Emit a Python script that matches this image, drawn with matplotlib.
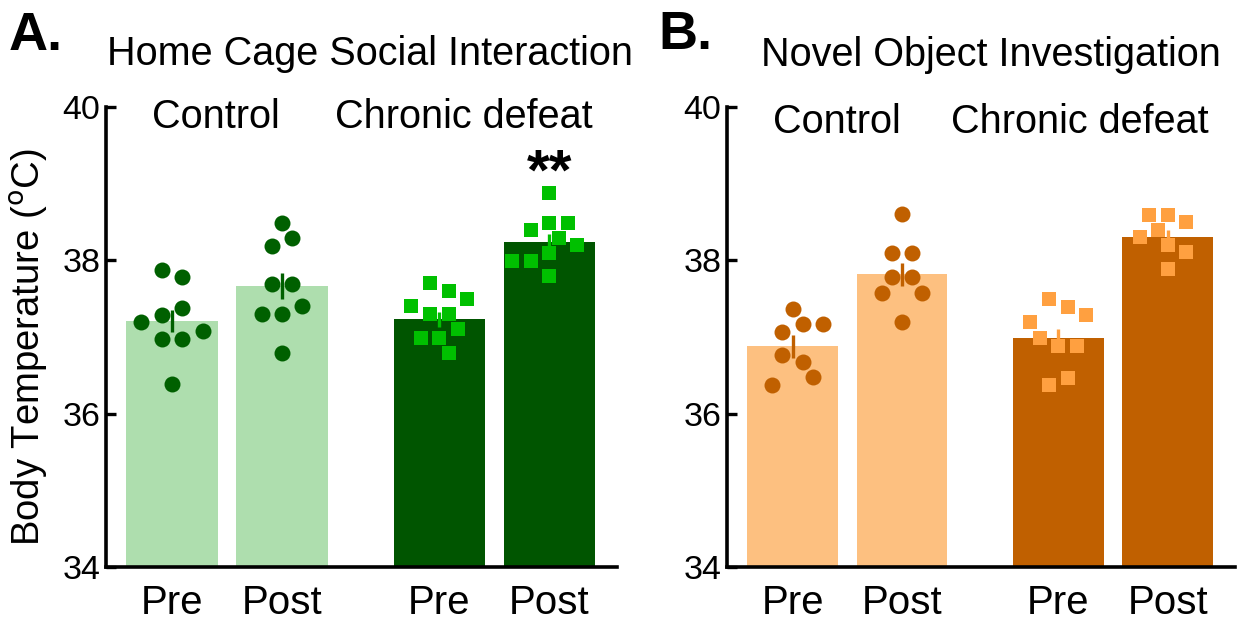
import numpy as np
import matplotlib
matplotlib.use("Agg")
import matplotlib.pyplot as plt

plt.rcParams['font.family'] = ['Liberation Sans', 'DejaVu Sans']

# ---- data ----
groups = ['Pre', 'Post', 'Pre', 'Post']

# A. Home cage social interaction
a_ctrl_pre = [37.87, 37.78, 37.38, 37.29, 37.19, 37.08, 36.98, 36.98, 36.39]
a_ctrl_post = [38.49, 38.29, 38.19, 37.69, 37.69, 37.40, 37.30, 37.30, 36.79]
a_cd_pre = [37.70, 37.60, 37.50, 37.40, 37.30, 37.30, 37.10, 36.99, 36.99, 36.79]
a_cd_post = [38.88, 38.49, 38.49, 38.40, 38.29, 38.20, 38.09, 37.99, 37.99, 37.80]
a_means = [37.21, 37.66, 37.23, 38.24]
a_sem = [0.14, 0.17, 0.10, 0.10]

# B. Novel object investigation
b_ctrl_pre = [37.37, 37.17, 37.17, 37.07, 36.77, 36.67, 36.48, 36.38]
b_ctrl_post = [38.60, 38.09, 38.09, 37.78, 37.78, 37.58, 37.58, 37.19]
b_cd_pre = [37.50, 37.39, 37.29, 37.20, 36.99, 36.88, 36.88, 36.47, 36.38]
b_cd_post = [38.59, 38.59, 38.50, 38.40, 38.30, 38.20, 38.11, 37.89]
b_means = [36.88, 37.82, 36.99, 38.30]
b_sem = [0.15, 0.15, 0.12, 0.09]

positions = [0, 1, 2.43, 3.43]
BAR_W = 0.83

fig = plt.figure(figsize=(12.43, 6.27), dpi=100)
axA = fig.add_axes([0.0853, 0.0957, 0.4111, 0.7337])
axB = fig.add_axes([0.5849, 0.0957, 0.4087, 0.7337])


def swarm_offsets(ax, x0, vals, size_px):
    """Prism-like scatter: points of similar value sit in a centred row,
    rows are widened/shifted when they bump into points already placed."""
    trans = ax.transData
    px_per_unit = trans.transform((x0 + 1, 0))[0] - trans.transform((x0, 0))[0]
    ys = np.array([trans.transform((x0, v))[1] for v in vals])
    order = list(np.argsort(vals, kind='stable')[::-1])
    step = size_px * 1.28
    mind = size_px * 1.1

    rows = []
    for i in order:
        if rows and ys[rows[-1][0]] - ys[i] <= 9.5:
            rows[-1].append(i)
        else:
            rows.append([i])

    placed = []
    offs = np.zeros(len(vals))

    def clear(cands, idx):
        return all(np.hypot(dx - px, ys[j] - py) >= mind
                   for dx, j in zip(cands, idx) for px, py in placed)

    for r, row in enumerate(rows):
        if r % 2 == 1:
            row = row[::-1]
        n = len(row)
        base = [(k - (n - 1) / 2) * step for k in range(n)]
        trials = []
        for k in range(8):
            for si, shift in enumerate((0.0, 0.5 * step, -0.5 * step, step, -step)):
                cand = [b + np.sign(b) * k * 0.5 * step + shift for b in base]
                trials.append((max(abs(c) for c in cand), si > 0, len(trials), cand))
        trials.sort()
        chosen = trials[-1][3]
        for _, _, _, cand in trials:
            if clear(cand, row):
                chosen = cand
                break
        for dx, j in zip(chosen, row):
            placed.append((dx, ys[j]))
            offs[j] = dx / px_per_unit
    return offs


def draw_panel(ax, means, sems, pts, bar_cols, pt_cols, markers):
    ax.set_xlim(-0.6, 4.045)
    ax.set_ylim(34, 40)
    ax.bar(positions, means, width=BAR_W, color=bar_cols, zorder=1)
    for x, m, s, vals, c, mk in zip(positions, means, sems, pts, pt_cols, markers):
        ax.errorbar([x], [m], yerr=[s], fmt='none', ecolor=c, elinewidth=2.4,
                    capsize=0, zorder=3)
        ms = 11.5 if mk == 'o' else 10.5
        offs = swarm_offsets(ax, x, vals, ms * 1.389)
        ax.plot(x + offs, vals, linestyle='none', marker=mk, markersize=ms,
                color=c, markeredgewidth=0, zorder=4)
    for side in ['top', 'right']:
        ax.spines[side].set_visible(False)
    for side in ['left', 'bottom']:
        ax.spines[side].set_linewidth(2.6)
    ax.set_yticks([34, 36, 38, 40])
    ax.tick_params(axis='y', direction='in', length=7, width=2.4, labelsize=24.5, pad=4)
    ax.set_xticks(positions)
    ax.set_xticklabels(groups)
    ax.tick_params(axis='x', length=0, labelsize=29, pad=12)


draw_panel(axA, a_means, a_sem, [a_ctrl_pre, a_ctrl_post, a_cd_pre, a_cd_post],
           ['#aedeae', '#aedeae', '#005500', '#005500'],
           ['#006000', '#006000', '#00c000', '#00c000'],
           ['o', 'o', 's', 's'])
draw_panel(axB, b_means, b_sem, [b_ctrl_pre, b_ctrl_post, b_cd_pre, b_cd_post],
           ['#fdc080', '#fdc080', '#c06000', '#c06000'],
           ['#c06000', '#c06000', '#ffa040', '#ffa040'],
           ['o', 'o', 's', 's'])

# group labels inside the axes
axA.text(0.4, 39.73, 'Control', ha='center', va='baseline', fontsize=28.5)
axA.text(2.65, 39.73, 'Chronic defeat', ha='center', va='baseline', fontsize=28.5)
axB.text(0.4, 39.66, 'Control', ha='center', va='baseline', fontsize=28.5)
axB.text(2.63, 39.66, 'Chronic defeat', ha='center', va='baseline', fontsize=28.5)
axA.text(3.43, 39.12, '**', ha='center', va='center', fontsize=42, fontweight='bold')

# titles and panel letters
fig.text(370 / 1243, 1 - 65 / 627, 'Home Cage Social Interaction', ha='center',
         va='baseline', fontsize=28.5)
fig.text(991 / 1243, 1 - 66 / 627, 'Novel Object Investigation', ha='center',
         va='baseline', fontsize=28.5)
fig.text(9 / 1243, 1 - 50 / 627, 'A.', ha='left', va='baseline', fontsize=39,
         fontweight='bold')
fig.text(658 / 1243, 1 - 49 / 627, 'B.', ha='left', va='baseline', fontsize=39,
         fontweight='bold')
fig.text(29 / 1243, 1 - 347 / 627, 'Body Temperature ($^{\\mathrm{o}}$C)', rotation=90,
         ha='center', va='center', fontsize=27.5)

fig.savefig('out.png', dpi=100)
